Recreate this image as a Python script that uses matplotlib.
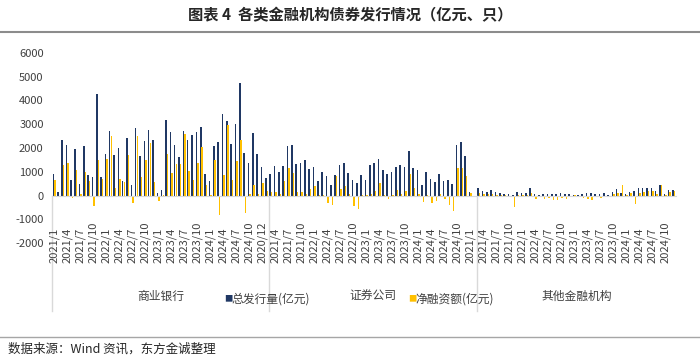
import numpy as np
import matplotlib
matplotlib.use("Agg")
import matplotlib.pyplot as plt
import matplotlib.transforms as mtransforms

plt.rcParams['font.family'] = ['Noto Sans CJK SC', 'DejaVu Sans']
plt.rcParams['axes.unicode_minus'] = False

# ---------------- data (亿元) ----------------
groups = ["商业银行", "证券公司", "其他金融机构"]

# 商业银行 (48 months)
bank_total = [900, 130, 2330, 2140, 660, 1970, 490, 2080, 870, 760, 4280, 760,
              1760, 2730, 1700, 2000, 620, 2430, 450, 2830, 1670, 2290, 2770, 2330,
              100, 220, 3190, 2690, 2120, 1630, 2720, 2330, 2560, 2660, 2900, 910,
              630, 2100, 2250, 3450, 3150, 2150, 3000, 4750, 1800, 1350, 2620, 1740]
bank_net = [650, -80, 1300, 1360, -100, 1080, 60, 1010, 590, -460, 1500, 700,
            1530, 2520, 310, 700, 560, 1720, -310, 2490, 800, 1500, 2200, 560,
            -250, 30, 1760, 940, 1340, 1340, 2600, 1040, 660, 1360, 2040, 450,
            40, 1500, -800, 880, 2950, 650, 1450, 2350, -750, 80, 450, 50]

# 证券公司 (48 months)
sec_total = [1200, 730, 900, 1250, 985, 1250, 2080, 2120, 1340, 1380, 1490, 1130,
             1200, 630, 1010, 830, 440, 860, 1280, 1360, 940, 650, 520, 860,
             660, 1280, 1360, 1520, 1070, 890, 1000, 1210, 1270, 1210, 1880, 1150,
             1070, 440, 985, 700, 560, 910, 630, 670, 490, 2110, 2260, 1660]
sec_net = [520, 170, 140, 140, 50, 590, 1150, 940, 140, 140, 60, 270,
           380, 40, 20, -300, -400, 840, 270, 380, 60, -450, -550, 40,
           30, 60, 170, 520, 40, -150, 30, 240, 50, 200, 910, 310,
           50, -280, 40, -300, -250, 60, -150, -400, -650, 1150, 1150, 840]

# 其他金融机构 (48 months)
oth_total = [140, 0, 330, 180, 160, 230, 140, 120, 80, 60, 40, 150,
             90, 120, 300, 60, 40, 50, 70, 80, 60, 90, 70, 50,
             30, 20, 80, 100, 90, 80, 60, 90, 40, 150, 260, 120,
             60, 160, 200, 300, 300, 320, 300, 170, 430, 60, 240, 240]
oth_net = [120, 0, 100, 60, 50, 80, 40, 30, 20, -30, -480, 40,
           30, 40, 120, -150, -60, -150, -100, -200, -180, -100, -150, -60,
           20, -30, -100, -150, -200, -60, -100, -60, -30, 80, 100, 440,
           30, 100, -350, 120, 150, 200, 180, 80, 440, 30, 160, 200]

bank_labels = ["2021/1", "2021/4", "2021/7", "2021/10", "2022/1", "2022/4", "2022/7", "2022/10",
               "2023/1", "2023/4", "2023/7", "2023/10", "2024/1", "2024/4", "2024/7", "2024/10"]
sec_labels = ["2020/12", "2021/4", "2021/7", "2021/10", "2022/1", "2022/4", "2022/7", "2022/10",
              "2023/1", "2023/4", "2023/7", "2023/10", "2024/1", "2024/4", "2024/7", "2024/10"]
oth_labels = ["2021/1", "2021/4", "2021/7", "2021/10", "2022/1", "2022/4", "2022/7", "2022/10",
              "2023/1", "2023/4", "2023/7", "2023/10", "2024/1", "2024/4", "2024/7", "2024/10"]

total = np.array(bank_total + sec_total + oth_total)
net = np.array(bank_net + sec_net + oth_net)
tick_labels = bank_labels + sec_labels + oth_labels
x = np.arange(len(total))

navy = '#203864'
gold = '#FFC000'
grey_line = '#D9D9D9'
txt = '#404040'

fig = plt.figure(figsize=(7, 3.62), dpi=100)
ax = fig.add_axes([52 / 700, 119 / 362, 624 / 700, 190 / 362])

ax.bar(x - 0.16, total, width=0.32, color=navy, linewidth=0)
ax.bar(x + 0.16, net, width=0.32, color=gold, linewidth=0)

ax.set_xlim(-0.5, len(total) - 0.5)
ax.set_ylim(-2000, 6000)
ax.set_yticks(np.arange(-2000, 6001, 1000))
ax.tick_params(axis='y', length=0, labelsize=8, labelcolor=txt, pad=6)
ax.set_xticks([])
for s in ['top', 'right', 'left']:
    ax.spines[s].set_visible(False)
ax.spines['bottom'].set_position(('data', 0))
ax.spines['bottom'].set_color(grey_line)

# date labels, every third month, bottom aligned
trans = mtransforms.blended_transform_factory(ax.transData, ax.transAxes)
for k, lab in enumerate(tick_labels):
    ax.text(x[k * 3], -0.105, lab, rotation=90, ha='center', va='bottom',
            fontsize=8, color=txt, transform=trans)

# group separators and group names
n = len(bank_total)
seps = [-0.5, n + 1.5, 2 * n + 1.5, len(total) - 0.5]
for s in seps[:3]:
    ax.plot([s, s], [0.25, -0.358], color=grey_line, lw=1, transform=trans, clip_on=False)
for g, name in enumerate(groups):
    ax.text((seps[g] + seps[g + 1]) / 2, -0.28, name, ha='center', va='center',
            fontsize=8.5, color=txt, transform=trans)

# legend entries placed between group names
fig.text(224 / 700, 1 - 299 / 362, "■", color=navy, fontsize=6, va='center', ha='left')
fig.text(231 / 700, 1 - 299 / 362, "总发行量(亿元)", color=txt, fontsize=8.5, va='center', ha='left')
fig.text(408 / 700, 1 - 299 / 362, "■", color=gold, fontsize=6, va='center', ha='left')
fig.text(415 / 700, 1 - 299 / 362, "净融资额(亿元)", color=txt, fontsize=8.5, va='center', ha='left')

# title, rules and source
fig.text(0.5, 1 - 15 / 362, "图表 4  各类金融机构债券发行情况（亿元、只）", ha='center', va='center',
         fontsize=11, fontweight='bold', color='#262626')
fig.add_artist(plt.Line2D([0, 1], [1 - 32 / 362, 1 - 32 / 362], color='#8C8C8C', lw=1.5))
fig.add_artist(plt.Line2D([0, 1], [1 - 337 / 362, 1 - 337 / 362], color='#A6A6A6', lw=1))
fig.text(8 / 700, 1 - 349 / 362, "数据来源：Wind 资讯，东方金诚整理", ha='left', va='center',
         fontsize=9, color='#262626')

fig.savefig("out.png", dpi=100)
